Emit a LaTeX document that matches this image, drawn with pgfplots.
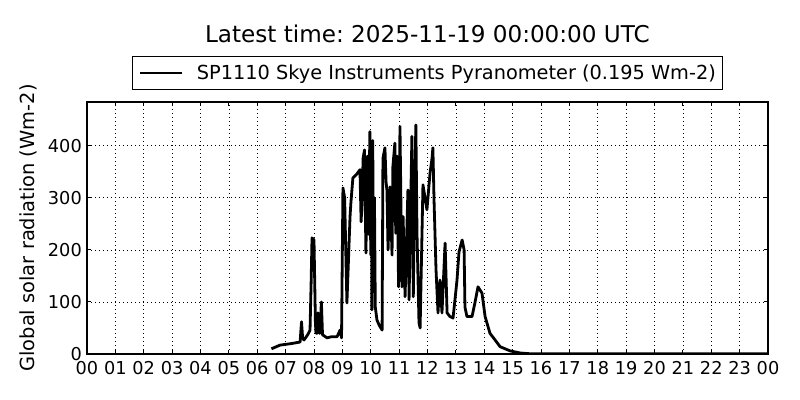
\documentclass[border=0pt]{standalone}
\usepackage{pgfplots}
\pgfplotsset{compat=1.18}
\usepackage{fontspec}
\setmainfont{DejaVu Sans}
\frenchspacing
\pgfplotstableread{
h v
6.50 10
6.80 17
7.20 20
7.51 23
7.56 62
7.60 30
7.65 27
7.79 38
7.86 46
7.90 140
7.93 223
8.00 219
8.05 60
8.07 40
8.12 40
8.14 79
8.18 40
8.21 40
8.26 100
8.30 37
8.46 31
8.60 33
8.81 33
8.92 46
8.97 31
9.02 319
9.08 300
9.16 98
9.27 264
9.30 290
9.37 338
9.50 345
9.62 354
9.66 254
9.70 300
9.73 376
9.78 392
9.83 194
9.88 380
9.92 230
9.97 427
10.00 190
10.02 400
10.04 85
10.07 410
10.10 120
10.13 300
10.16 90
10.22 65
10.30 55
10.40 46
10.43 376
10.50 396
10.54 330
10.57 315
10.61 200
10.68 321
10.75 190
10.78 360
10.85 405
10.88 232
10.93 380
10.98 129
11.03 437
11.10 129
11.14 264
11.21 110
11.31 315
11.35 104
11.45 418
11.50 110
11.54 296
11.59 440
11.63 232
11.70 60
11.74 50
11.84 325
11.98 277
12.09 348
12.16 376
12.19 396
12.23 296
12.30 162
12.37 79
12.44 142
12.51 79
12.62 213
12.69 79
12.79 72
12.90 69
13.04 142
13.11 196
13.22 219
13.29 200
13.32 90
13.39 72
13.57 72
13.67 98
13.78 129
13.92 117
14.03 72
14.20 40
14.56 14
14.91 6
15.26 2
15.61 0.5
16.14 0.2
24.00 0.2
}\datatable
\begin{document}
\begin{tikzpicture}
\useasboundingbox (0bp,0bp) rectangle (800bp,400bp);
\begin{axis}[
  at={(87bp,46bp)}, anchor=south west,
  scale only axis, width=681bp, height=252bp,
  xmin=0, xmax=24, ymin=0, ymax=484,
  xtick={0,1,...,24},
  xticklabels={00,01,02,03,04,05,06,07,08,09,10,11,12,13,14,15,16,17,18,19,20,21,22,23,00},
  ytick={0,100,200,300,400},
  /pgf/number format/assume math mode=true,
  grid=major,
  major grid style={black, line width=0.6bp, dash pattern=on 1bp off 3bp},
  tick align=inside, major tick length=4bp,
  tick style={black, line width=1bp},
  axis line style={line width=1.2bp},
  ticklabel style={font=\fontsize{17.8}{20}\selectfont},
  xticklabel style={inner sep=0pt, yshift=-7.5bp},
  yticklabel style={inner sep=0pt, xshift=-5bp},
  ylabel={Global solar radiation (Wm-2)},
  ylabel style={at={(axis description cs:-0.0764,0.5)}, anchor=base, inner sep=0pt, font=\fontsize{19.5}{22}\selectfont},
  legend style={draw=black, line width=1bp, at={(0.5,1.0476)}, anchor=south,
    inner xsep=6.5bp, inner ysep=8.5bp, font=\fontsize{19.4}{22}\selectfont,
    nodes={inner sep=0pt}, /tikz/every odd column/.append style={column sep=13bp}},
  legend image code/.code={\draw[#1] (0bp,0bp) -- (42bp,0bp);},
]
\addplot[black, line width=2.8bp, line join=round] table[x=h, y=v] {\datatable};
\addlegendentry{SP1110 Skye Instruments Pyranometer (0.195 Wm-2)}
\end{axis}
\node[anchor=base, inner sep=0pt, font=\fontsize{23.2}{27}\selectfont] at (427.5bp,357.7bp) {Latest time: 2025-11-19 00:00:00 UTC};
\end{tikzpicture}
\end{document}
